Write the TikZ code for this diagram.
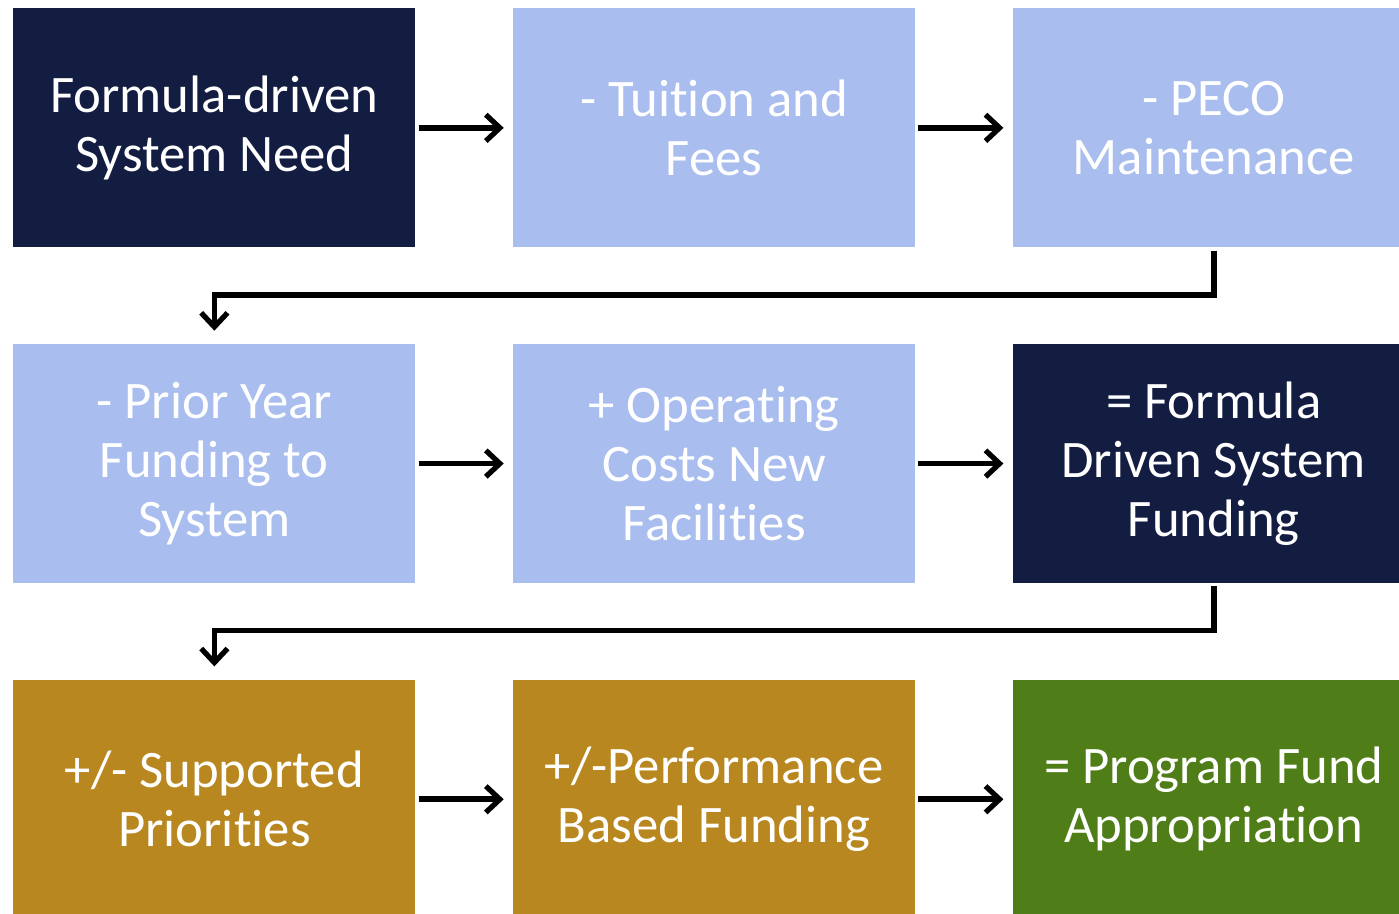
\documentclass[tikz,border=0pt]{standalone}
\usepackage{fontspec}
\setmainfont{Carlito}[Ligatures=NoCommon]
\usepackage{tikz}
\usetikzlibrary{positioning}
\usetikzlibrary{arrows.meta}

\definecolor{navybox}{HTML}{131D42}
\definecolor{skybox}{HTML}{A9BEEE}
\definecolor{goldbox}{HTML}{B8871F}
\definecolor{leafbox}{HTML}{4F7E18}

\begin{document}
\begin{tikzpicture}[box/.style={minimum width=8.04cm, minimum height=4.78cm,
        align=center, inner sep=0pt, text=white, font=\fontsize{30}{33.6}\selectfont},
    link/.style={draw, line width=3.2pt, -{Straight Barb[length=8pt,width=15pt,line width=3pt]},
        shorten <=0.06cm, shorten >=0.18cm},
    elbow/.style={link, shorten >=0.26cm},
    node distance=1.92cm and 1.94cm]
    \useasboundingbox (0,0) rectangle (27.98,-18.26);
    \clip (0,0) rectangle (27.98,-18.26);
    \node [box,fill=navybox,anchor=north west] (need) at (0.26,-0.16) {Formula-driven\\System Need};
    \node [box,fill=skybox,right=of need] (tuition) {- Tuition and\\Fees};
    \node [box,fill=skybox,right=of tuition] (peco) {- PECO\\Maintenance};
    \node [box,fill=skybox,below=of need] (prior) {- Prior Year\\Funding to\\System};
    \node [box,fill=skybox,right=of prior] (operating) {+ Operating\\Costs New\\Facilities};
    \node [box,fill=navybox,right=of operating] (formula) {= Formula\\Driven System\\Funding};
    \node [box,fill=goldbox,below=of prior] (priorities) {+/- Supported\\Priorities};
    \node [box,fill=goldbox,right=of priorities] (performance) {+/-Performance\\Based Funding};
    \node [box,fill=leafbox,right=of performance] (appropriation) {= Program Fund\\Appropriation};
    \draw [link] (need) -- (tuition);
    \draw [link] (tuition) -- (peco);
    \draw [elbow] (peco.south) -- ++(0,-0.94) -| (prior.north);
    \draw [link] (prior) -- (operating);
    \draw [link] (operating) -- (formula);
    \draw [elbow] (formula.south) -- ++(0,-0.94) -| (priorities.north);
    \draw [link] (priorities) -- (performance);
    \draw [link] (performance) -- (appropriation);
\end{tikzpicture}
\end{document}
